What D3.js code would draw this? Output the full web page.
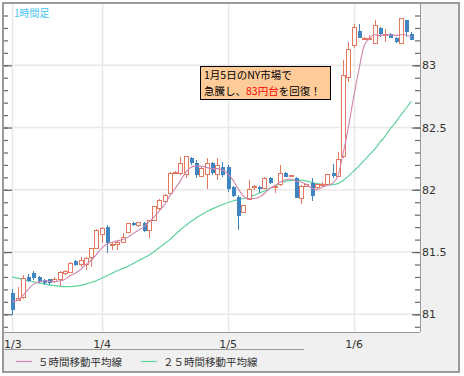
<!DOCTYPE html>
<html><head><meta charset="utf-8">
<script src="https://cdn.jsdelivr.net/npm/d3@7"></script>
<style>body{margin:0;background:#fff}svg{display:block}</style>
</head><body><svg id="c" width="464" height="376"></svg>
<script>
const title = "1時間足";
const dayLabels = ["1/3","1/4","1/5","1/6"];
const dayIndex = [0,17,41,65];
const yMajor = [81,81.5,82,82.5,83];
const legendLabels = ["５時間移動平均線","２５時間移動平均線"];
const noteLine1 = "1月5日のNY市場で";
const noteLine2 = ["急騰し、","83円台","を回復！"];

const open  = [81.169,81.109,81.136,81.297,81.334,81.297,81.276,81.281,81.26,81.276,81.329,81.334,81.43,81.40,81.396,81.458,81.53,81.637,81.704,81.549,81.557,81.575,81.659,81.736,81.715,
81.731,81.677,81.757,81.851,81.905,81.972,82.136,82.133,82.12,82.253,82.219,82.106,82.12,82.213,82.12,82.187,82.181,82.021,81.94,81.816,81.923,82.018,82.026,82.012,82.093,82.024,
82.039,82.133,82.106,82.097,81.932,82.026,82.052,82.02,82.032,82.039,82.137,82.105,82.266,82.9,83.157,83.275,83.214,83.213,83.176,83.302,83.243,83.254,83.216,83.176,83.36,83.254];
const high  = [81.20,81.217,81.316,81.324,81.35,81.308,81.286,81.286,81.297,81.348,81.356,81.423,81.436,81.458,81.458,81.53,81.683,81.704,81.717,81.583,81.591,81.65,81.736,81.744,81.741,
81.745,81.757,81.87,81.925,81.965,82.14,82.15,82.265,82.275,82.26,82.24,82.18,82.253,82.22,82.253,82.227,82.2,82.03,81.958,81.88,82.079,82.039,82.031,82.106,82.10,82.035,
82.2,82.14,82.115,82.10,82.035,82.05,82.092,82.05,82.06,82.13,82.204,82.306,83.042,83.188,83.328,83.328,83.23,83.24,83.363,83.31,83.29,83.257,83.225,83.382,83.365,83.27];
const low   = [80.994,81.105,81.125,81.257,81.276,81.249,81.235,81.233,81.249,81.227,81.316,81.329,81.388,81.382,81.356,81.382,81.522,81.57,81.495,81.52,81.52,81.57,81.65,81.71,81.70,
81.664,81.61,81.75,81.84,81.90,81.965,82.128,82.12,82.093,82.20,82.093,82.10,82.004,82.12,82.079,82.106,81.985,81.94,81.677,81.81,81.918,81.999,81.977,82.004,82.045,81.972,
82.031,82.10,82.10,81.935,81.884,82.02,81.91,82.0,82.025,82.03,82.092,82.10,82.255,82.868,83.14,83.216,83.20,83.20,83.17,83.23,83.19,83.216,83.18,83.17,83.23,83.20];
const close = [81.035,81.123,81.289,81.27,81.294,81.26,81.249,81.254,81.276,81.334,81.342,81.41,81.396,81.436,81.45,81.53,81.672,81.69,81.57,81.557,81.575,81.618,81.731,81.72,81.736,
81.672,81.757,81.865,81.918,81.958,82.133,82.14,82.213,82.271,82.219,82.12,82.173,82.208,82.133,82.192,82.12,82.004,81.95,81.79,81.87,82.004,82.024,82.004,82.093,82.053,82.03,
82.133,82.106,82.112,81.937,82.025,82.04,81.953,82.04,82.04,82.119,82.113,82.247,82.916,83.13,83.307,83.216,83.218,83.217,83.318,83.248,83.247,83.216,83.19,83.377,83.264,83.2];
const ma5  = [81.10,81.11,81.15,81.20,81.24,81.26,81.268,81.265,81.262,81.268,81.28,81.31,81.33,81.36,81.40,81.43,81.48,81.53,81.565,81.578,81.59,81.60,81.62,81.648,81.675,
81.70,81.74,81.78,81.83,81.88,81.95,82.01,82.07,82.14,82.18,82.19,82.19,82.18,82.17,82.17,82.16,82.13,82.08,82.01,81.95,81.93,81.93,81.94,81.97,82.01,82.035,
82.06,82.08,82.087,82.07,82.063,82.045,82.015,82.00,82.02,82.035,82.053,82.11,82.29,82.5,82.74,82.96,83.155,83.215,83.245,83.24,83.245,83.245,83.24,83.245,83.245,83.225];
const ma25 = [81.30,81.29,81.28,81.27,81.262,81.253,81.245,81.237,81.23,81.225,81.222,81.223,81.226,81.233,81.243,81.255,81.27,81.29,81.31,81.33,81.35,81.367,81.385,81.407,81.43,
81.452,81.475,81.503,81.535,81.567,81.60,81.64,81.677,81.712,81.745,81.773,81.80,81.823,81.845,81.863,81.88,81.896,81.91,81.92,81.93,81.942,81.955,81.972,81.99,82.01,82.03,
82.05,82.068,82.076,82.08,82.077,82.07,82.06,82.05,82.044,82.04,82.042,82.05,82.075,82.11,82.15,82.19,82.235,82.28,82.325,82.38,82.43,82.49,82.54,82.60,82.655,82.71];

const svg = d3.select("#c");
const L = 3, T = 3, R = 420, B = 332, OR = 459, OB = 372;
const x = d3.scaleLinear().domain([0, open.length - 1]).range([12.3, 411.3]);
const y = d3.scaleLinear().domain([81, 83]).range([314.3, 65.3]);
const upCol = "#e4775f", downCol = "#3f85c2";
const cjk = "'Noto Sans CJK JP','Noto Sans CJK SC',sans-serif";

svg.append("rect").attr("width",464).attr("height",376).attr("fill","#fff");
svg.append("rect").attr("x",R).attr("y",T).attr("width",OR-R).attr("height",OB-T).attr("fill","#f0f0f0");
svg.append("rect").attr("x",L).attr("y",B).attr("width",R-L).attr("height",OB-B).attr("fill","#f0f0f0");

// grid
const grid = svg.append("g").attr("stroke","#e8e8e8").attr("stroke-width",1.5);
grid.selectAll("line.h").data(yMajor).join("line")
  .attr("x1",L).attr("x2",R).attr("y1",d=>y(d)).attr("y2",d=>y(d));
grid.selectAll("line.v").data(dayIndex).join("line")
  .attr("x1",d=>Math.round(x(d))+0.5).attr("x2",d=>Math.round(x(d))+0.5).attr("y1",T).attr("y2",B);

// moving averages
const line = arr => d3.line().x((d,i)=>x(i)).y(d=>y(d)).curve(d3.curveMonotoneX)(arr);
svg.append("path").attr("d",line(ma25)).attr("fill","none").attr("stroke","#5fd39b").attr("stroke-width",1.2);

// candles
const idx = d3.range(open.length);
const cg = svg.append("g").attr("shape-rendering","crispEdges");
cg.selectAll("line").data(idx).join("line")
  .attr("x1",i=>Math.round(x(i))+0.5).attr("x2",i=>Math.round(x(i))+0.5)
  .attr("y1",i=>y(high[i])).attr("y2",i=>y(low[i]))
  .attr("stroke",i=>close[i]>=open[i]?upCol:downCol);
cg.selectAll("rect").data(idx).join("rect")
  .attr("x",i=>Math.round(x(i))-1.5)
  .attr("width",4)
  .attr("y",i=>y(Math.max(open[i],close[i])))
  .attr("height",i=>Math.max(1,Math.abs(y(open[i])-y(close[i]))))
  .attr("fill",i=>close[i]>=open[i]?"#fff":downCol)
  .attr("stroke",i=>close[i]>=open[i]?upCol:"none");

svg.append("path").attr("d",line(ma5)).attr("fill","none").attr("stroke","#cf86ad").attr("stroke-width",1.1);

// axes
const minors = d3.range(809, 835).map(v=>v/10);
const rAx = svg.append("g").attr("transform",`translate(${R},0)`)
  .call(d3.axisRight(y).tickValues(yMajor).tickSizeInner(-8).tickSizeOuter(0).tickPadding(2).tickFormat(d=>String(d)));
const rMin = svg.append("g").attr("transform",`translate(${R},0)`)
  .call(d3.axisRight(y).tickValues(minors).tickSizeInner(-5).tickSizeOuter(0).tickFormat(""));
const lAx = svg.append("g").attr("transform",`translate(${L},0)`)
  .call(d3.axisLeft(y).tickValues(yMajor).tickSizeInner(-9).tickSizeOuter(0).tickFormat(""));
const lMin = svg.append("g").attr("transform",`translate(${L},0)`)
  .call(d3.axisLeft(y).tickValues(minors).tickSizeInner(-5).tickSizeOuter(0).tickFormat(""));
[rAx,rMin,lAx,lMin].forEach(g=>{
  g.select(".domain").remove();
  g.selectAll(".tick line").attr("stroke","#666").attr("stroke-width",1.2);
});
rAx.selectAll("text").attr("font-family","'DejaVu Sans',sans-serif").attr("font-size",11).attr("fill","#333");

const bAx = svg.append("g").attr("transform",`translate(0,${B})`)
  .call(d3.axisBottom(x).tickValues(dayIndex).tickSize(0).tickPadding(8).tickFormat((d,i)=>dayLabels[i]));
bAx.select(".domain").remove();
bAx.selectAll("text").attr("font-family","'DejaVu Sans',sans-serif").attr("font-size",11).attr("fill","#333");

// frame lines
const fr = svg.append("g").attr("fill","none").attr("stroke","#9a9a9a").attr("shape-rendering","crispEdges");
fr.append("line").attr("x1",L).attr("x2",R).attr("y1",B).attr("y2",B);
fr.append("line").attr("x1",R).attr("x2",R).attr("y1",T).attr("y2",B);
fr.append("line").attr("x1",L).attr("x2",304).attr("y1",349).attr("y2",349);
fr.append("rect").attr("x",L).attr("y",T).attr("width",OR-L).attr("height",OB-T).attr("stroke-width",1.5);

// title
svg.append("text").attr("x",14).attr("y",16.5).text(title)
  .attr("font-family",cjk).attr("font-size",10).attr("fill","#44c4f0");

// annotation
svg.append("rect").attr("x",200.5).attr("y",66.5).attr("width",130).attr("height",33)
  .attr("fill","#ffcc99").attr("stroke","#000");
svg.append("text").attr("x",204).attr("y",79).text(noteLine1)
  .attr("font-family",cjk).attr("font-size",10.5).attr("fill","#000");
const t2 = svg.append("text").attr("x",204).attr("y",94.8).attr("font-family",cjk).attr("font-size",10.5);
noteLine2.forEach((s,i)=>t2.append("tspan").text(s).attr("fill",i===1?"#ff0000":"#000"));

// legend
const lg = [{x:16,c:"#cf86ad"},{x:141,c:"#5fd39b"}];
lg.forEach((d,i)=>{
  svg.append("line").attr("x1",d.x).attr("x2",d.x+16).attr("y1",361.5).attr("y2",361.5).attr("stroke",d.c).attr("stroke-width",1.2);
  svg.append("text").attr("x",d.x+22).attr("y",365.5).text(legendLabels[i])
    .attr("font-family",cjk).attr("font-size",10.5).attr("fill","#333");
});
</script></body></html>
